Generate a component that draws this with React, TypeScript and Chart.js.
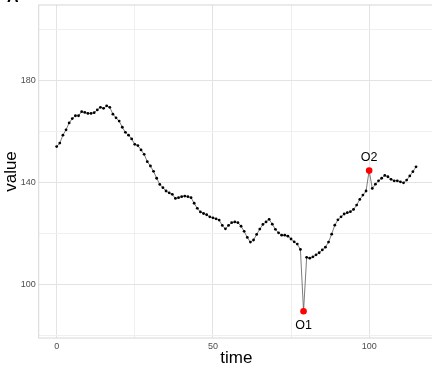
import { useEffect, useRef } from "react";
import { Chart, registerables } from "chart.js";

Chart.register(...registerables);

// value at time index 0..115
const values: number[] = [
  154.0, 155.4, 158.5, 160.6, 163.3, 165.0, 166.1, 166.1, 167.7, 167.4,
  167.0, 167.0, 167.3, 168.4, 169.4, 169.0, 170.0, 169.4, 166.7, 165.3,
  164.0, 161.6, 159.6, 158.5, 157.0, 154.9, 154.4, 152.7, 151.0, 148.1,
  146.4, 144.3, 141.6, 139.2, 137.9, 136.6, 135.9, 135.3, 133.7, 134.0,
  134.4, 134.6, 134.4, 134.0, 131.8, 129.8, 128.4, 127.8, 127.3, 126.5,
  126.1, 125.7, 125.2, 123.1, 121.8, 123.1, 124.2, 124.5, 124.2, 122.8,
  120.8, 118.4, 116.6, 117.4, 119.6, 121.7, 123.5, 124.5, 125.5, 123.6,
  121.6, 120.2, 119.3, 119.3, 118.9, 117.8, 116.7, 115.8, 113.7, 89.5,
  110.6, 110.3, 110.8, 111.6, 112.4, 113.5, 114.6, 116.6, 119.7, 123.2,
  125.3, 126.5, 127.6, 128.1, 128.5, 129.4, 131.1, 133.3, 135.0, 136.6,
  144.6, 137.6, 139.3, 140.6, 141.6, 142.7, 142.2, 141.2, 140.6, 140.6,
  140.2, 139.8, 140.9, 142.5, 144.2, 146.1,
];

const outlierTimes: number[] = [79, 100];
const outlierValues: number[] = [89.5, 144.6];
const outlierLabels: string[] = ["O1", "O2"];

const xTicks: number[] = [0, 25, 50, 75, 100];
const xMajor: number[] = [0, 50, 100];
const yTicks: number[] = [80, 100, 120, 140, 160, 180, 200];
const yMajor: number[] = [100, 140, 180];

const FONT = "'Liberation Sans', Arial, Helvetica, sans-serif";

export default function App() {
  const ref = useRef<HTMLCanvasElement>(null);

  useEffect(() => {
    const canvas = ref.current;
    if (!canvas) return;

    const overlay = {
      id: "overlay",
      beforeDatasetsDraw(chart: any) {
        const { left, right, top, bottom } = chart.chartArea;
        const ctx = chart.ctx;
        ctx.save();
        ctx.strokeStyle = "#d6d6d6";
        ctx.lineWidth = 1;
        ctx.strokeRect(left, top, right - left, bottom - top);
        ctx.restore();
      },
      afterDatasetsDraw(chart: any) {
        const ctx = chart.ctx;
        const xs = chart.scales.x;
        const ys = chart.scales.y;
        ctx.save();
        ctx.fillStyle = "#000";
        ctx.font = `12.5px ${FONT}`;
        ctx.textAlign = "center";
        ctx.textBaseline = "alphabetic";
        outlierLabels.forEach((lab, i) => {
          const px = xs.getPixelForValue(outlierTimes[i]);
          const py = ys.getPixelForValue(outlierValues[i]);
          if (i === 0) {
            ctx.fillText(lab, px, py + 18);
          } else {
            ctx.fillText(lab, px, py - 10);
          }
        });
        // panel tag (cut off at the top)
        ctx.font = `bold 16px ${FONT}`;
        ctx.textAlign = "left";
        ctx.fillText("A", 7, 2);
        ctx.restore();
      },
    };

    const chart = new Chart(canvas, {
      type: "scatter",
      data: {
        datasets: [
          {
            data: outlierTimes.map((t, i) => ({ x: t, y: outlierValues[i] })),
            pointRadius: 3.3,
            pointBackgroundColor: "#ff0000",
            pointBorderColor: "#ff0000",
            pointBorderWidth: 0,
            showLine: false,
            order: 0,
          },
          {
            data: values.map((v, i) => ({ x: i, y: v })),
            showLine: true,
            borderColor: "#5a5a5a",
            borderWidth: 0.8,
            pointRadius: 1.4,
            pointBackgroundColor: "#000",
            pointBorderColor: "#000",
            pointBorderWidth: 0,
            tension: 0,
            order: 1,
          },
        ],
      },
      options: {
        responsive: false,
        animation: false,
        devicePixelRatio: 1,
        layout: { padding: { top: 5, right: 6, left: 0, bottom: 0 } },
        plugins: {
          legend: { display: false },
          tooltip: { enabled: false },
        },
        scales: {
          x: {
            type: "linear",
            min: -5.75,
            max: 120.75,
            afterBuildTicks: (s: any) => {
              s.ticks = xTicks.map((v) => ({ value: v }));
            },
            afterFit: (s: any) => {
              s.height = 29;
              s.paddingLeft = 0;
              s.paddingRight = 0;
            },
            border: { display: false },
            grid: {
              drawTicks: false,
              color: (c: any) =>
                xMajor.includes(c.tick?.value) ? "#e3e3e3" : "#efefef",
              lineWidth: 1,
            },
            ticks: {
              padding: 3,
              color: "#4d4d4d",
              font: { family: FONT, size: 9 },
              maxRotation: 0,
              callback: (v: any) => (xMajor.includes(Number(v)) ? String(v) : ""),
            },
            title: {
              display: true,
              text: "time",
              color: "#000",
              font: { family: FONT, size: 17, lineHeight: 1 },
              padding: { top: 0, bottom: 0 },
            },
          },
          y: {
            type: "linear",
            min: 79,
            max: 209.5,
            afterBuildTicks: (s: any) => {
              s.ticks = yTicks.map((v) => ({ value: v }));
            },
            afterFit: (s: any) => {
              s.width = 38.7;
              s.paddingTop = 0;
              s.paddingBottom = 0;
            },
            border: { display: false },
            grid: {
              drawTicks: false,
              color: (c: any) =>
                yMajor.includes(c.tick?.value) ? "#e3e3e3" : "#efefef",
              lineWidth: 1,
            },
            ticks: {
              padding: 3,
              color: "#4d4d4d",
              font: { family: FONT, size: 9 },
              callback: (v: any) => (yMajor.includes(Number(v)) ? String(v) : ""),
            },
            title: {
              display: true,
              text: "value",
              color: "#000",
              font: { family: FONT, size: 17, lineHeight: 1 },
              padding: { top: 3, bottom: 0 },
            },
          },
        },
      },
      plugins: [overlay],
    } as any);

    return () => chart.destroy();
  }, []);

  return (
    <div
      style={{
        position: "fixed",
        left: 0,
        top: 0,
        width: 432,
        height: 367,
        overflow: "hidden",
        background: "#fff",
      }}
    >
      <canvas ref={ref} width={440} height={367} style={{ display: "block" }} />
    </div>
  );
}
